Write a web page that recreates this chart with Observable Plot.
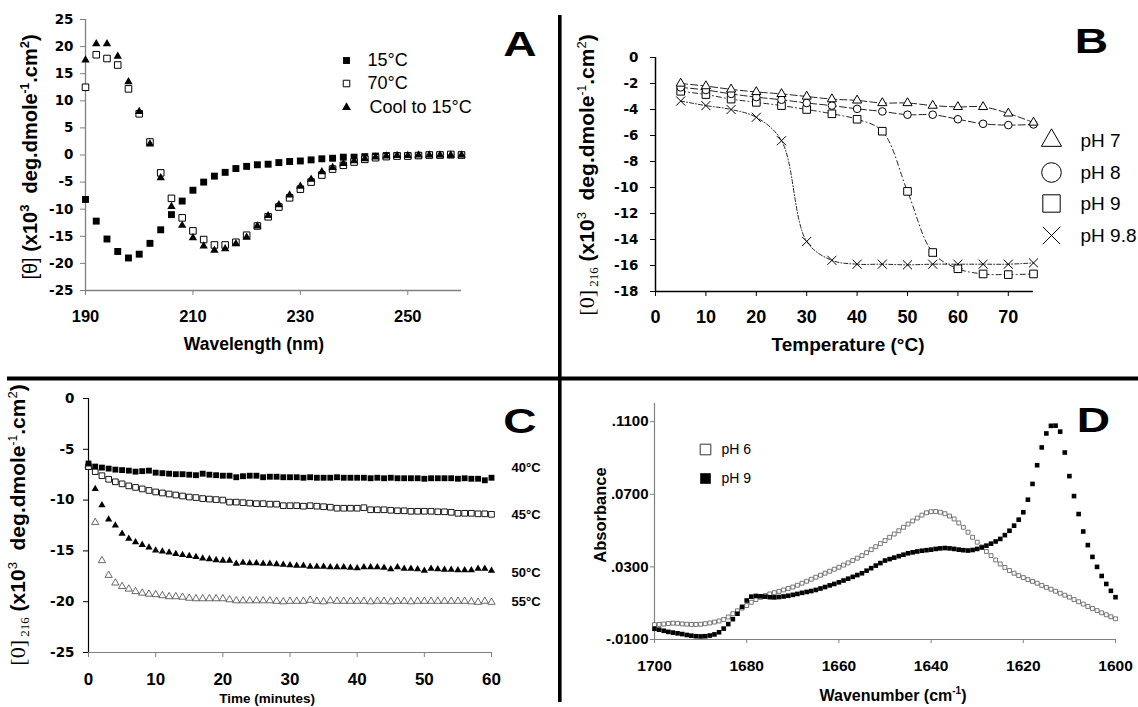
<!DOCTYPE html>
<html><head><meta charset="utf-8">
<script src="https://cdn.jsdelivr.net/npm/d3@7"></script>
<script src="https://cdn.jsdelivr.net/npm/@observablehq/plot@0.6"></script>
<style>
body{margin:0;background:#fff;}
#fig{position:relative;width:1138px;height:707px;overflow:hidden;background:#fff;}
#fig svg{position:absolute;}
#fig text{white-space:pre;}
</style></head><body><div id="fig"></div>
<script>
// ---------- Panel A data ----------
const aWavelength = [190,192,194,196,198,200,202,204,206,208,210,212,214,216,218,220,222,224,226,228,230,232,234,236,238,240,242,244,246,248,250,252,254,256,258,260];
const a15C = [-8.2,-12.2,-15.5,-17.8,-19.0,-18.3,-16.3,-13.8,-11.0,-8.5,-6.5,-5.0,-3.9,-3.2,-2.5,-2.1,-1.8,-1.7,-1.4,-1.2,-1.1,-0.9,-0.7,-0.6,-0.4,-0.4,-0.3,-0.2,-0.1,-0.1,-0.1,-0.1,0.0,0.0,0.0,0.0];
const a70C = [12.5,18.5,17.8,16.6,12.2,7.6,2.4,-3.3,-8.0,-11.6,-14.0,-15.6,-16.6,-16.6,-16.1,-14.8,-13.1,-11.4,-9.6,-7.9,-6.3,-5.0,-3.7,-2.6,-1.9,-1.3,-0.8,-0.5,-0.3,-0.2,-0.2,-0.1,0.0,0.0,0.1,0.0];
const aCool = [17.5,20.5,20.5,18.2,13.5,8.0,2.0,-4.2,-9.5,-13.0,-15.3,-16.8,-17.6,-17.3,-16.4,-15.2,-13.1,-11.2,-9.2,-7.4,-5.8,-4.5,-3.1,-2.3,-1.6,-1.1,-0.7,-0.4,-0.2,-0.1,-0.1,0.0,0.0,0.0,0.0,0.0];
const aLegend = ["15°C","70°C","Cool to 15°C"];
const aXTicks = [190,210,230,250];
const aYTicks = [-25,-20,-15,-10,-5,0,5,10,15,20,25];

// ---------- Panel B data ----------
const bTemp = [5,10,15,20,25,30,35,40,45,50,55,60,65,70,75];
const bPH7 = [-2.0,-2.2,-2.45,-2.65,-2.8,-3.0,-3.2,-3.3,-3.5,-3.5,-3.7,-3.8,-3.8,-4.3,-5.0];
const bPH8 = [-2.3,-2.5,-2.8,-3.05,-3.25,-3.5,-3.7,-3.95,-4.15,-4.4,-4.4,-4.75,-5.1,-5.2,-5.15];
const bPH9 = [-2.6,-2.85,-3.2,-3.45,-3.7,-4.0,-4.33,-4.75,-5.67,-10.3,-15.0,-16.25,-16.65,-16.7,-16.65];
const bPH98 = [-3.35,-3.7,-4.0,-4.6,-6.4,-14.15,-15.6,-15.9,-15.9,-15.95,-15.9,-15.9,-15.9,-15.9,-15.8];
const bLegend = ["pH 7","pH 8","pH 9","pH 9.8"];
const bXTicks = [0,10,20,30,40,50,60,70];
const bYTicks = [-18,-16,-14,-12,-10,-8,-6,-4,-2,0];

// ---------- Panel C data ----------
const cTime = [0,1,2,3,4,5,6,7,8,9,10,11,12,13,14,15,16,17,18,19,20,21,22,23,24,25,26,27,28,29,30,31,32,33,34,35,36,37,38,39,40,41,42,43,44,45,46,47,48,49,50,51,52,53,54,55,56,57,58,59,60];
const c40 = [-6.4,-6.7,-6.8,-6.9,-7.0,-7.05,-7.1,-7.2,-7.15,-7.1,
 -7.3,-7.35,-7.4,-7.45,-7.45,-7.5,-7.55,-7.4,-7.5,-7.55,
 -7.6,-7.6,-7.75,-7.65,-7.6,-7.6,-7.75,-7.7,-7.7,-7.75,
 -7.75,-7.75,-7.8,-7.75,-7.8,-7.8,-7.8,-7.75,-7.8,-7.8,
 -7.8,-7.8,-7.85,-7.8,-7.85,-7.8,-7.85,-7.85,-7.85,-7.85,
 -7.9,-7.85,-7.85,-7.85,-7.85,-7.9,-7.85,-7.9,-7.9,-8.05,
 -7.8];
const c45 = [-6.7,-7.2,-7.6,-7.95,-8.2,-8.4,-8.6,-8.75,-8.9,-9.05,
 -9.2,-9.3,-9.4,-9.5,-9.6,-9.7,-9.75,-9.85,-9.9,-9.95,
 -10.0,-10.2,-10.2,-10.25,-10.3,-10.35,-10.35,-10.4,-10.4,-10.55,
 -10.55,-10.55,-10.6,-10.55,-10.6,-10.65,-10.7,-10.8,-10.8,-10.8,
 -10.8,-10.75,-10.95,-10.95,-10.95,-11.0,-11.05,-11.05,-11.1,-11.1,
 -11.1,-11.1,-11.15,-11.15,-11.2,-11.3,-11.3,-11.3,-11.35,-11.35,
 -11.4];
const c50 = [-6.8,-8.9,-10.5,-11.9,-12.5,-13.3,-13.8,-14.15,-14.4,-14.65,
 -14.95,-15.05,-15.15,-15.3,-15.4,-15.5,-15.6,-15.75,-15.8,-15.9,
 -15.95,-15.95,-16.25,-16.15,-16.2,-16.2,-16.25,-16.25,-16.3,-16.35,
 -16.4,-16.45,-16.45,-16.55,-16.55,-16.55,-16.6,-16.6,-16.6,-16.65,
 -16.7,-16.6,-16.6,-16.6,-16.65,-16.8,-16.6,-16.75,-16.75,-16.8,
 -16.95,-16.75,-16.8,-16.85,-16.85,-16.9,-16.9,-16.9,-16.75,-16.75,
 -16.95];
const c55 = [-6.6,-12.2,-15.95,-17.4,-18.15,-18.5,-18.75,-19.0,-19.15,-19.25,
 -19.3,-19.4,-19.5,-19.5,-19.55,-19.65,-19.7,-19.7,-19.7,-19.7,
 -19.7,-19.8,-19.9,-19.9,-19.9,-19.9,-19.9,-19.9,-19.95,-20.0,
 -19.95,-19.95,-19.95,-19.85,-19.95,-20.0,-19.9,-19.95,-19.95,-19.95,
 -19.95,-19.95,-20.0,-19.95,-19.95,-20.0,-19.95,-19.95,-20.0,-19.95,
 -19.95,-19.95,-19.95,-19.95,-19.95,-19.95,-19.95,-20.0,-20.05,-19.95,
 -20.05];
const cLabels = ["40°C","45°C","50°C","55°C"];
const cXTicks = [0,10,20,30,40,50,60];
const cYTicks = [-25,-20,-15,-10,-5,0];

// ---------- Panel D data ----------
const dWavenumber = [1700,1699,1698,1697,1696,1695,1694,1693,1692,1691,
 1690,1689,1688,1687,1686,1685,1684,1683,1682,1681,
 1680,1679,1678,1677,1676,1675,1674,1673,1672,1671,
 1670,1669,1668,1667,1666,1665,1664,1663,1662,1661,
 1660,1659,1658,1657,1656,1655,1654,1653,1652,1651,
 1650,1649,1648,1647,1646,1645,1644,1643,1642,1641,
 1640,1639,1638,1637,1636,1635,1634,1633,1632,1631,
 1630,1629,1628,1627,1626,1625,1624,1623,1622,1621,
 1620,1619,1618,1617,1616,1615,1614,1613,1612,1611,
 1610,1609,1608,1607,1606,1605,1604,1603,1602,1601,
 1600];
const dPH6 = [-0.0018,-0.0017,-0.0015,-0.0012,-0.0010,-0.0011,-0.0014,-0.0016,-0.0017,-0.0017,
 -0.0016,-0.0013,-0.0009,-0.0004,0.0002,0.0010,0.0024,0.0042,0.0058,0.0073,
 0.0087,0.0105,0.0120,0.0132,0.0142,0.0151,0.0158,0.0165,0.0173,0.0181,
 0.0189,0.0199,0.0210,0.0221,0.0232,0.0243,0.0254,0.0265,0.0276,0.0287,
 0.0298,0.0310,0.0322,0.0335,0.0348,0.0362,0.0378,0.0395,0.0411,0.0428,
 0.0445,0.0463,0.0481,0.0499,0.0518,0.0536,0.0553,0.0569,0.0585,0.0598,
 0.0604,0.0605,0.0601,0.0593,0.0580,0.0564,0.0542,0.0518,0.0491,0.0463,
 0.0436,0.0410,0.0385,0.0362,0.0338,0.0316,0.0297,0.0280,0.0265,0.0252,
 0.0241,0.0230,0.0220,0.0210,0.0198,0.0187,0.0177,0.0166,0.0155,0.0144,
 0.0133,0.0120,0.0108,0.0095,0.0082,0.0071,0.0059,0.0047,0.0036,0.0025,
 0.0014];
const dPH9 = [-0.0041,-0.0046,-0.0052,-0.0058,-0.0062,-0.0066,-0.0070,-0.0075,-0.0079,-0.0082,
 -0.0083,-0.0082,-0.0078,-0.0072,-0.0060,-0.0040,-0.0015,0.0012,0.0042,0.0080,
 0.0115,0.0136,0.0140,0.0138,0.0136,0.0133,0.0132,0.0134,0.0137,0.0141,
 0.0146,0.0151,0.0157,0.0162,0.0167,0.0173,0.0181,0.0189,0.0198,0.0206,
 0.0215,0.0225,0.0235,0.0245,0.0255,0.0265,0.0279,0.0293,0.0307,0.0321,
 0.0335,0.0343,0.0351,0.0359,0.0367,0.0375,0.0380,0.0385,0.0389,0.0392,
 0.0395,0.0399,0.0402,0.0404,0.0402,0.0399,0.0395,0.0392,0.0390,0.0393,
 0.0399,0.0407,0.0417,0.0428,0.0440,0.0454,0.0475,0.0499,0.0527,0.0560,
 0.0601,0.0670,0.0757,0.0860,0.0958,0.1035,0.1077,0.1078,0.1045,0.0930,
 0.0800,0.0690,0.0591,0.0495,0.0420,0.0355,0.0300,0.0250,0.0206,0.0168,
 0.0133];
const dLegend = ["pH 6","pH 9"];
const dXTicks = [1700,1680,1660,1640,1620,1600];
const dYTicks = [-0.01,0.03,0.07,0.11];

// ---------- helpers ----------
const fig = document.getElementById("fig");
const SANS = '"Liberation Sans", Arial, sans-serif';
const DJ = '"DejaVu Sans", sans-serif';
const SERIF = '"Liberation Serif", "Times New Roman", serif';

function frameAxes(o) {
  return [
    Plot.ruleX([o.x0], {stroke: o.yColor || o.color, strokeWidth: o.width}),
    Plot.ruleY([o.y0], {stroke: o.color, strokeWidth: o.width}),
    Plot.axisY({ticks: o.yTicks, tickFormat: o.yFmt || (d => String(d)), tickSize: o.tick, tickPadding: o.yPad,
      stroke: o.yColor || o.color, fill: "#000", fontFamily: o.yFont, fontSize: o.ySize, fontWeight: "bold", label: null}),
    Plot.axisX({ticks: o.xTicks, tickFormat: d => String(d), tickSize: o.tick, tickPadding: o.xPad,
      stroke: o.color, fill: "#000", fontFamily: o.xFont, fontSize: o.xSize, fontWeight: "bold", label: null})
  ];
}
function legendDot(dx, dy, opts) { return Plot.dot([0], {frameAnchor: "top-left", dx, dy, ...opts}); }
function legendText(s, dx, dy, opts) {
  return Plot.text([s], {frameAnchor: "top-left", dx, dy, text: d => d, textAnchor: "start", lineAnchor: "middle", fill: "#000", ...opts});
}
function rich(svg, x, y, rot, parts, anchor = "middle") {
  const t = d3.select(svg).append("text")
    .attr("transform", `translate(${x},${y})` + (rot ? ` rotate(${rot})` : ""))
    .attr("text-anchor", anchor).attr("fill", "#000");
  for (const p of parts) {
    t.append("tspan").attr("font-family", p.f || SANS).attr("font-size", p.s)
      .attr("font-weight", p.w || "bold").attr("dy", p.dy || 0).text(p.t);
  }
}
function place(svg, left, top) {
  svg.style.left = left + "px"; svg.style.top = top + "px";
  fig.appendChild(svg); return svg;
}
const baseStyle = {fontFamily: SANS, background: "transparent", overflow: "visible"};
function cdTitle(size) {
  return [
    {t: "[0]", f: SERIF, w: "normal", s: 22},
    {t: " 216", f: SERIF, w: "normal", s: 13, dy: 4},
    {t: " (x10", s: size, dy: -4},
    {t: "3", s: 13, w: "normal", dy: -8},
    {t: "  deg.dmole", s: size, dy: 8},
    {t: "-1", s: 12, w: "normal", dy: -8},
    {t: ".cm", s: size, dy: 8},
    {t: "2", s: 13, w: "normal", dy: -8},
    {t: ")", s: size, dy: 8}
  ];
}

// ---------- Panel A ----------
const aRows = aWavelength.map((w, i) => ({w, c15: a15C[i], c70: a70C[i], cool: aCool[i]}));
const svgA = Plot.plot({
  width: 560, height: 377, marginTop: 19, marginRight: 99, marginBottom: 87, marginLeft: 85,
  x: {domain: [190, 260]}, y: {domain: [-25, 25]}, style: baseStyle,
  marks: [
    ...frameAxes({x0: 190, y0: -25, xTicks: aXTicks, yTicks: aYTicks, tick: 5, xPad: 15, yPad: 7,
      color: "#808080", width: 1.3, xFont: SANS, xSize: 16.5, yFont: DJ, ySize: 13.5}),
    Plot.dot(aRows, {x: "w", y: "c15", symbol: "square", r: 3.9, fill: "#000"}),
    Plot.dot(aRows, {x: "w", y: "c70", symbol: "square", r: 3.7, fill: "#fff", stroke: "#000", strokeWidth: 1}),
    Plot.dot(aRows, {x: "w", y: "cool", symbol: "triangle", r: 3.1, fill: "#000"}),
    legendDot(261, 41, {symbol: "square", r: 3.9, fill: "#000"}),
    legendDot(261, 64, {symbol: "square", r: 3.7, fill: "#fff", stroke: "#000", strokeWidth: 1}),
    legendDot(261, 88, {symbol: "triangle", r: 3.3, fill: "#000"}),
    legendText(aLegend[0], 282, 41, {fontSize: 18}),
    legendText(aLegend[1], 282, 64, {fontSize: 18}),
    legendText(aLegend[2], 284, 88, {fontSize: 18})
  ]
});
place(svgA, 0, 0);
rich(svgA, 37, 157, -90, [
  {t: "[θ] ", w: "normal", s: 20},
  {t: "(x10", s: 20}, {t: "3", s: 13, dy: -8}, {t: "  deg.dmole", s: 20, dy: 8},
  {t: "-1", s: 12, dy: -8}, {t: ".cm", s: 20, dy: 8}, {t: "2", s: 13, dy: -8}, {t: ")", s: 20, dy: 8}
]);
rich(svgA, 254, 350, 0, [{t: "Wavelength (nm)", s: 17.5}]);

// ---------- Panel B ----------
const bRows = arr => bTemp.map((t, i) => ({t, v: arr[i]}));
const bLine = (arr, dash) => Plot.line(bRows(arr), {x: "t", y: "v", stroke: "#222", strokeWidth: 1, strokeDasharray: dash, curve: "catmull-rom"});
const openB = {fill: "#fff", stroke: "#000", strokeWidth: 1};
const svgB = Plot.plot({
  width: 578, height: 377, marginTop: 57, marginRight: 105, marginBottom: 86, marginLeft: 95,
  x: {domain: [0, 75]}, y: {domain: [-18, 0]}, style: baseStyle,
  marks: [
    ...frameAxes({x0: 0, y0: -18, xTicks: bXTicks, yTicks: bYTicks, tick: 5, xPad: 14, yPad: 12,
      color: "#000", width: 1.5, xFont: SANS, xSize: 18, yFont: DJ, ySize: 13.5}),
    bLine(bPH98, "4,2,1,2"),
    bLine(bPH9, "5,3,1,3"),
    bLine(bPH8, "7,3"),
    bLine(bPH7, "7,3"),
    Plot.dot(bRows(bPH98), {x: "t", y: "v", symbol: "times", r: 4.2, stroke: "#000", strokeWidth: 1}),
    Plot.dot(bRows(bPH9), {x: "t", y: "v", symbol: "square", r: 4.3, ...openB}),
    Plot.dot(bRows(bPH8), {x: "t", y: "v", symbol: "circle", r: 3.8, ...openB}),
    Plot.dot(bRows(bPH7), {x: "t", y: "v", symbol: "triangle", r: 3.4, ...openB}),
    legendDot(396, 83, {symbol: "triangle", r: 7.5, ...openB}),
    legendDot(396, 115, {symbol: "circle", r: 9.8, ...openB}),
    legendDot(396, 146, {symbol: "square", r: 9.8, ...openB}),
    legendDot(396, 178, {symbol: "times", r: 8, stroke: "#000", strokeWidth: 1}),
    legendText(bLegend[0], 425, 83, {fontSize: 19}),
    legendText(bLegend[1], 425, 115, {fontSize: 19}),
    legendText(bLegend[2], 425, 146, {fontSize: 19}),
    legendText(bLegend[3], 425, 178, {fontSize: 19})
  ]
});
place(svgB, 560, 0);
rich(svgB, 34, 175, -90, cdTitle(21));
rich(svgB, 288, 351, 0, [{t: "Temperature (°C)", s: 19}]);

// ---------- Panel C ----------
const cRows = arr => cTime.map((t, i) => ({t, v: arr[i]}));
const svgC = Plot.plot({
  width: 560, height: 330, marginTop: 21, marginRight: 69, marginBottom: 55, marginLeft: 88,
  x: {domain: [0, 60]}, y: {domain: [-25, 0]}, style: baseStyle,
  marks: [
    ...frameAxes({x0: 0, y0: -25, xTicks: cXTicks, yTicks: cYTicks, tick: 5, xPad: 15, yPad: 9,
      color: "#808080", yColor: "#000", width: 1.2, xFont: SANS, xSize: 17, yFont: DJ, ySize: 13.5}),
    Plot.dot(cRows(c55), {x: "t", y: "v", symbol: "triangle", r: 2.7, fill: "#fff", stroke: "#444", strokeWidth: 0.8}),
    Plot.dot(cRows(c50), {x: "t", y: "v", symbol: "triangle", r: 2.7, fill: "#000"}),
    Plot.dot(cRows(c45), {x: "t", y: "v", symbol: "square", r: 3.2, fill: "#fff", stroke: "#000", strokeWidth: 0.9}),
    Plot.dot(cRows(c40), {x: "t", y: "v", symbol: "square", r: 3.3, fill: "#000"}),
    legendText(cLabels[0], 423, 69, {fontSize: 13, fontWeight: "bold"}),
    legendText(cLabels[1], 423, 116, {fontSize: 13, fontWeight: "bold"}),
    legendText(cLabels[2], 423, 174, {fontSize: 13, fontWeight: "bold"}),
    legendText(cLabels[3], 423, 203, {fontSize: 13, fontWeight: "bold"})
  ]
});
place(svgC, 0, 377);
rich(svgC, 267, 326, 0, [{t: "Time (minutes)", s: 13.5}]);
rich(svgC, 25, 148, -90, cdTitle(21));

// ---------- Panel D ----------
const dRows = arr => dWavenumber.map((w, i) => ({w, v: arr[i]}));
const dFmt = d => (d < 0 ? "-" : "") + Math.abs(d).toFixed(4).slice(1);
const svgD = Plot.plot({
  width: 578, height: 330, marginTop: 26, marginRight: 23, marginBottom: 68, marginLeft: 94,
  x: {domain: [1700, 1600]}, y: {domain: [-0.01, 0.12]}, style: baseStyle,
  marks: [
    ...frameAxes({x0: 1700, y0: -0.01, xTicks: dXTicks, yTicks: dYTicks, yFmt: dFmt, tick: 4, xPad: 16, yPad: 2,
      color: "#808080", width: 1.2, xFont: SANS, xSize: 15.5, yFont: SANS, ySize: 15}),
    Plot.dot(dRows(dPH6), {x: "w", y: "v", symbol: "square", r: 2.2, fill: "#fff", stroke: "#555", strokeWidth: 0.8}),
    Plot.dot(dRows(dPH9), {x: "w", y: "v", symbol: "square", r: 2.6, fill: "#000"}),
    legendDot(51, 46, {symbol: "square", r: 6, fill: "#fff", stroke: "#333", strokeWidth: 1}),
    legendDot(51, 75, {symbol: "square", r: 6, fill: "#000"}),
    legendText(dLegend[0], 67, 46, {fontSize: 14}),
    legendText(dLegend[1], 67, 75, {fontSize: 14})
  ]
});
place(svgD, 560, 377);
rich(svgD, 46, 138, -90, [{t: "Absorbance", s: 16.5}]);
rich(svgD, 333, 324, 0, [{t: "Wavenumber (cm", s: 16}, {t: "-1", s: 10, dy: -7}, {t: ")", s: 16, dy: 7}]);

// ---------- overlay: dividers and panel letters ----------
const ov = d3.create("svg").attr("width", 1138).attr("height", 707).style("left", "0px").style("top", "0px");
ov.append("rect").attr("x", 7).attr("y", 376.5).attr("width", 1131).attr("height", 4).attr("fill", "#000");
ov.append("rect").attr("x", 558).attr("y", 15).attr("width", 3.6).attr("height", 687).attr("fill", "#000");
const letters = [["A", 520, 56], ["B", 1091.5, 53], ["C", 520, 433], ["D", 1093.5, 432]];
for (const [s, x, y] of letters) {
  ov.append("text").attr("transform", `translate(${x},${y}) scale(1.32,1)`).attr("text-anchor", "middle")
    .attr("font-family", SANS).attr("font-weight", "bold").attr("font-size", 35).attr("fill", "#000").text(s);
}
fig.appendChild(ov.node());
</script></body></html>
